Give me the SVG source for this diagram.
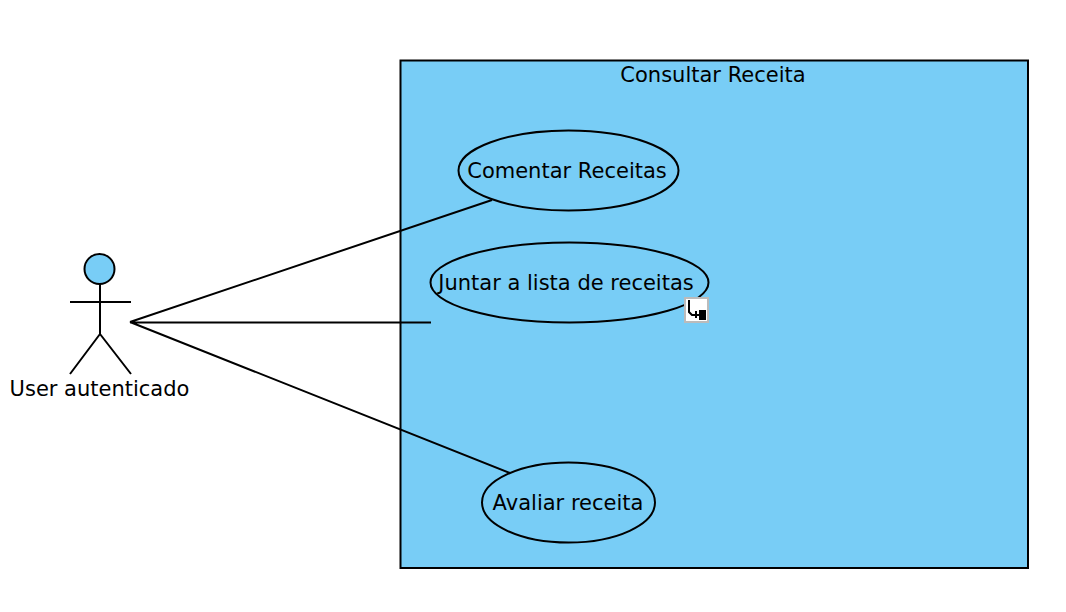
<svg xmlns="http://www.w3.org/2000/svg" width="1066" height="612" viewBox="0 0 1066 612">
<style>
text{font-family:"DejaVu Sans","Liberation Sans",sans-serif;font-size:21px;fill:#000;text-anchor:middle}
.s{fill:#78cdf6;stroke:#000;stroke-width:2}
.l{fill:none;stroke:#000;stroke-width:2}
</style>
<rect width="1066" height="612" fill="#fff"/>
<g id="system"><rect class="s" x="400.5" y="60.5" width="627.5" height="507.5"/><text x="713" y="81.500">Consultar Receita</text></g>
<g id="actor"><circle class="s" cx="99.500" cy="269" r="15"/><path class="l" d="M100 284V334M70 302H131M100 334L70 374M100 334L131 374"/><text x="99.500" y="395.500">User autenticado</text></g>
<g id="connectors"><path class="l" d="M130 322L492 200M130 322.500H431M130 322L510 473"/></g>
<g id="uc1"><ellipse class="s" cx="568.500" cy="170.500" rx="110" ry="40"/><text x="567" y="177.500">Comentar Receitas</text></g>
<g id="uc2"><ellipse class="s" cx="569.500" cy="282.500" rx="139" ry="40"/><text x="566" y="289.500">Juntar a lista de receitas</text>
<g id="icon"><rect x="685" y="298" width="23" height="24" fill="#fff" stroke="#bbb" stroke-width="2"/><path class="l" d="M689 300V312L692 315H699M696 311V318"/><rect x="699" y="310" width="7" height="10" fill="#000"/></g></g>
<g id="uc3"><ellipse class="s" cx="568.500" cy="502.500" rx="86.500" ry="40"/><text x="568" y="509.500">Avaliar receita</text></g>
</svg>
